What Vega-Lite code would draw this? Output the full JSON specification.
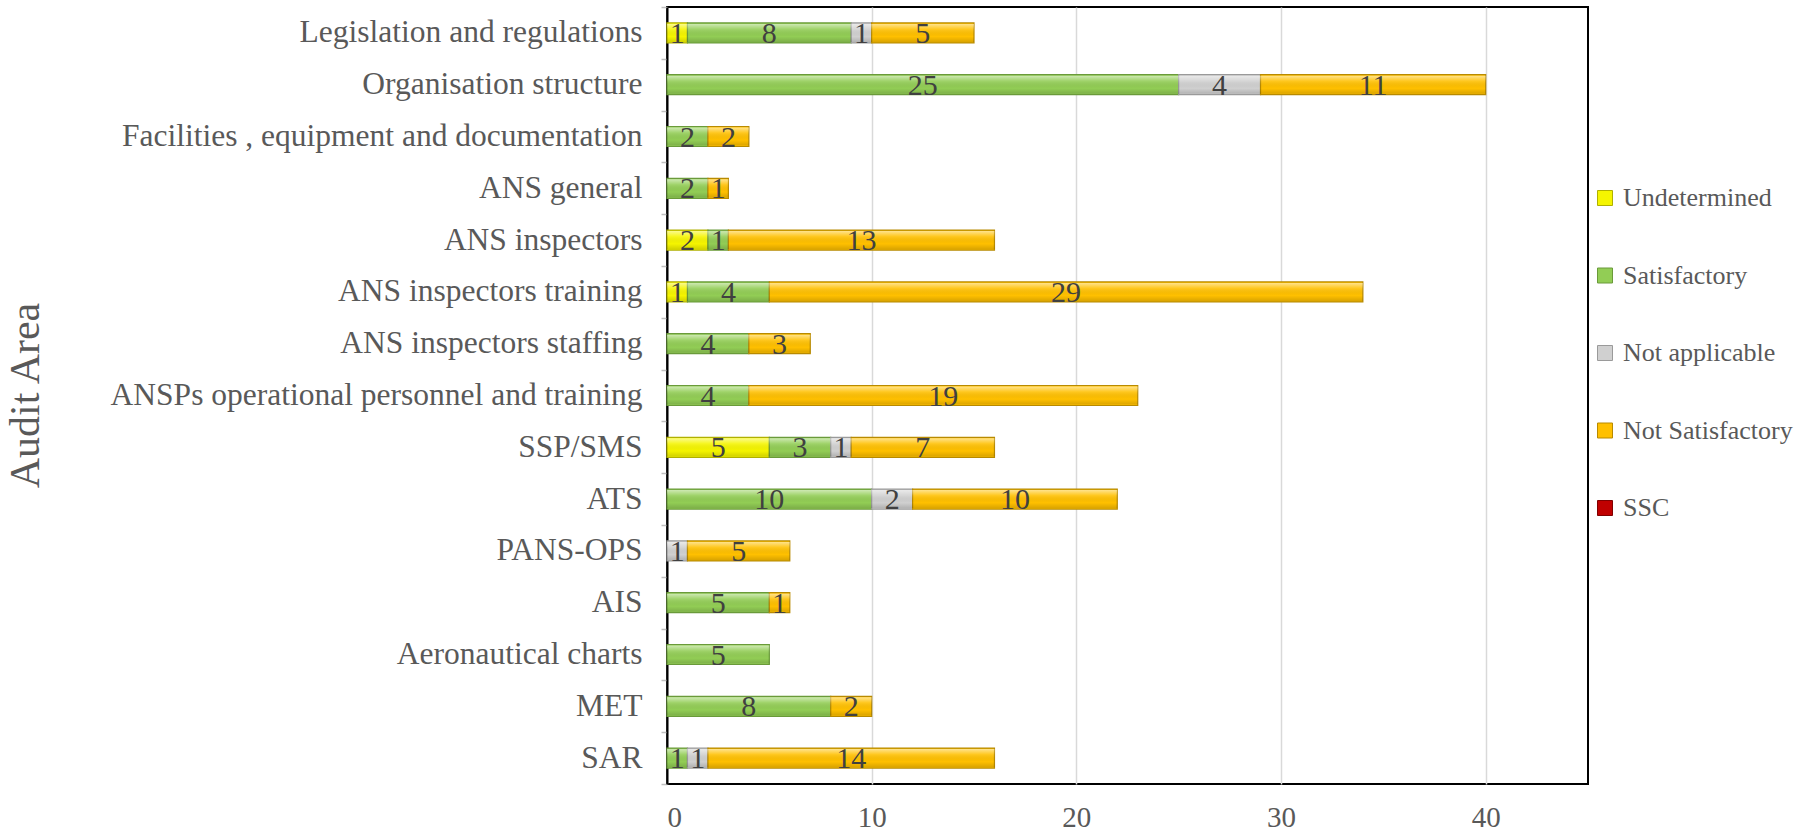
{
  "$schema": "https://vega.github.io/schema/vega-lite/v6.json",
  "width": 921,
  "height": 777,
  "autosize": {"type": "none"},
  "padding": {"left": 667, "top": 7, "right": 210, "bottom": 52},
  "background": "white",
  "config": {
    "font": "Liberation Serif",
    "view": {"stroke": "#000000", "strokeWidth": 2}
  },
  "data": {
    "values": [
      {"area": "Legislation and regulations", "status": "Undetermined", "ord": 1, "count": 1},
      {"area": "Legislation and regulations", "status": "Satisfactory", "ord": 2, "count": 8},
      {"area": "Legislation and regulations", "status": "Not applicable", "ord": 3, "count": 1},
      {"area": "Legislation and regulations", "status": "Not Satisfactory", "ord": 4, "count": 5},
      {"area": "Organisation structure", "status": "Satisfactory", "ord": 2, "count": 25},
      {"area": "Organisation structure", "status": "Not applicable", "ord": 3, "count": 4},
      {"area": "Organisation structure", "status": "Not Satisfactory", "ord": 4, "count": 11},
      {"area": "Facilities , equipment and documentation", "status": "Satisfactory", "ord": 2, "count": 2},
      {"area": "Facilities , equipment and documentation", "status": "Not Satisfactory", "ord": 4, "count": 2},
      {"area": "ANS general", "status": "Satisfactory", "ord": 2, "count": 2},
      {"area": "ANS general", "status": "Not Satisfactory", "ord": 4, "count": 1},
      {"area": "ANS inspectors", "status": "Undetermined", "ord": 1, "count": 2},
      {"area": "ANS inspectors", "status": "Satisfactory", "ord": 2, "count": 1},
      {"area": "ANS inspectors", "status": "Not Satisfactory", "ord": 4, "count": 13},
      {"area": "ANS inspectors training", "status": "Undetermined", "ord": 1, "count": 1},
      {"area": "ANS inspectors training", "status": "Satisfactory", "ord": 2, "count": 4},
      {"area": "ANS inspectors training", "status": "Not Satisfactory", "ord": 4, "count": 29},
      {"area": "ANS inspectors staffing", "status": "Satisfactory", "ord": 2, "count": 4},
      {"area": "ANS inspectors staffing", "status": "Not Satisfactory", "ord": 4, "count": 3},
      {"area": "ANSPs operational personnel and training", "status": "Satisfactory", "ord": 2, "count": 4},
      {"area": "ANSPs operational personnel and training", "status": "Not Satisfactory", "ord": 4, "count": 19},
      {"area": "SSP/SMS", "status": "Undetermined", "ord": 1, "count": 5},
      {"area": "SSP/SMS", "status": "Satisfactory", "ord": 2, "count": 3},
      {"area": "SSP/SMS", "status": "Not applicable", "ord": 3, "count": 1},
      {"area": "SSP/SMS", "status": "Not Satisfactory", "ord": 4, "count": 7},
      {"area": "ATS", "status": "Satisfactory", "ord": 2, "count": 10},
      {"area": "ATS", "status": "Not applicable", "ord": 3, "count": 2},
      {"area": "ATS", "status": "Not Satisfactory", "ord": 4, "count": 10},
      {"area": "PANS-OPS", "status": "Not applicable", "ord": 3, "count": 1},
      {"area": "PANS-OPS", "status": "Not Satisfactory", "ord": 4, "count": 5},
      {"area": "AIS", "status": "Satisfactory", "ord": 2, "count": 5},
      {"area": "AIS", "status": "Not Satisfactory", "ord": 4, "count": 1},
      {"area": "Aeronautical charts", "status": "Satisfactory", "ord": 2, "count": 5},
      {"area": "MET", "status": "Satisfactory", "ord": 2, "count": 8},
      {"area": "MET", "status": "Not Satisfactory", "ord": 4, "count": 2},
      {"area": "SAR", "status": "Satisfactory", "ord": 2, "count": 1},
      {"area": "SAR", "status": "Not applicable", "ord": 3, "count": 1},
      {"area": "SAR", "status": "Not Satisfactory", "ord": 4, "count": 14}
    ]
  },
  "transform": [
    {"stack": "count", "groupby": ["area"], "sort": [{"field": "ord"}], "as": ["x0", "x1"]},
    {"calculate": "(datum.x0 + datum.x1) / 2", "as": "mid"}
  ],
  "encoding": {
    "y": {
      "field": "area",
      "type": "nominal",
      "sort": ["Legislation and regulations", "Organisation structure", "Facilities , equipment and documentation", "ANS general", "ANS inspectors", "ANS inspectors training", "ANS inspectors staffing", "ANSPs operational personnel and training", "SSP/SMS", "ATS", "PANS-OPS", "AIS", "Aeronautical charts", "MET", "SAR"],
      "scale": {"paddingInner": 0, "paddingOuter": 0},
      "axis": {
        "title": "Audit Area",
        "titleFont": "Liberation Serif",
        "titleFontSize": 42,
        "titleFontWeight": "normal",
        "titleColor": "#595959",
        "titleAngle": -90,
        "titleBaseline": "middle",
        "titleAlign": "center",
        "titleX": -642,
        "titleY": 388,
        "labelFont": "Liberation Serif",
        "labelFontSize": 31.5,
        "labelColor": "#595959",
        "labelPadding": 19,
        "labelLimit": 700,
        "tickBand": "extent",
        "tickSize": 6,
        "tickColor": "#BFBFBF",
        "tickWidth": 1.5,
        "domainColor": "#000000",
        "domainWidth": 2,
        "grid": false
      }
    }
  },
  "layer": [
    {
      "mark": {"type": "bar", "height": 20, "strokeWidth": 1.2},
      "encoding": {
        "x": {
          "field": "x0",
          "type": "quantitative",
          "scale": {"domain": [0, 45], "nice": false},
          "axis": {
            "title": null,
            "values": [0, 10, 20, 30, 40],
            "labelFont": "Liberation Serif",
            "labelFontSize": 29,
            "labelColor": "#595959",
            "labelPadding": 19,
            "ticks": false,
            "domain": false,
            "grid": true,
            "gridColor": "#D9D9D9",
            "gridWidth": 1.5
          }
        },
        "x2": {"field": "x1"},
        "color": {
          "field": "status",
          "type": "nominal",
          "scale": {
            "domain": ["Undetermined", "Satisfactory", "Not applicable", "Not Satisfactory", "SSC"],
            "range": ["#F5F500", "#92CD55", "#D0D0D0", "#FFC000", "#C00000"]
          },
          "legend": {
            "title": null,
            "orient": "none",
            "legendX": 925,
            "legendY": 178,
            "padding": 0,
            "symbolType": "square",
            "symbolSize": 225,
            "symbolStrokeColor": "#7F7F7F",
            "symbolStrokeWidth": 1,
            "labelFont": "Liberation Serif",
            "labelFontSize": 26,
            "labelColor": "#595959",
            "labelOffset": 5,
            "labelLimit": 300,
            "rowPadding": 51.5
          }
        },
        "stroke": {
          "field": "status",
          "type": "nominal",
          "scale": {
            "domain": ["Undetermined", "Satisfactory", "Not applicable", "Not Satisfactory", "SSC"],
            "range": ["#B0B000", "#6A9A3A", "#9A9A9A", "#B88A00", "#800000"]
          },
          "legend": null
        },
        "order": {"field": "ord"}
      }
    },
    {
      "mark": {
        "type": "bar",
        "height": 18,
        "fill": {
          "gradient": "linear",
          "x1": 0, "y1": 0, "x2": 0, "y2": 1,
          "stops": [
            {"offset": 0, "color": "rgba(255,255,255,0.55)"},
            {"offset": 0.3, "color": "rgba(255,255,255,0.12)"},
            {"offset": 0.7, "color": "rgba(0,0,0,0)"},
            {"offset": 1, "color": "rgba(0,0,0,0.14)"}
          ]
        },
        "strokeWidth": 0
      },
      "encoding": {
        "x": {"field": "x0", "type": "quantitative"},
        "x2": {"field": "x1"}
      }
    },
    {
      "mark": {"type": "text", "font": "Liberation Serif", "fontSize": 30, "color": "#404040", "baseline": "middle", "align": "center", "dy": 1},
      "encoding": {
        "x": {"field": "mid", "type": "quantitative"},
        "text": {"field": "count", "type": "quantitative"}
      }
    }
  ]
}
